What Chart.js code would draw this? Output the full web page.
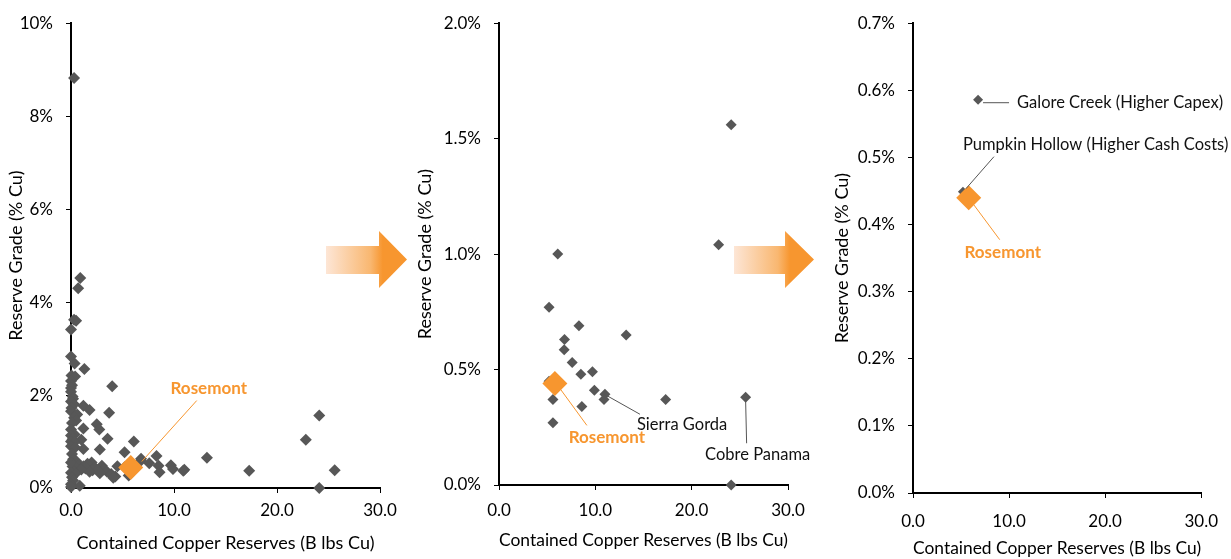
<!DOCTYPE html>
<html>
<head>
<meta charset="utf-8">
<script src="https://cdn.jsdelivr.net/npm/chart.js@4"></script>
<style>
  body { margin: 0; background: #fff; }
  #wrap { position: relative; width: 1231px; height: 559px; overflow: hidden; }
  .box { position: absolute; top: 0; height: 559px; }
  #arrows { position: absolute; left: 0; top: 0; z-index: 5; pointer-events: none; }
</style>
</head>
<body>
<div id="wrap">
  <div class="box" style="left:0;width:410px"><canvas id="chartAll"></canvas></div>
  <div class="box" style="left:400px;width:420px"><canvas id="chartLarge"></canvas></div>
  <div class="box" style="left:820px;width:411px"><canvas id="chartShort"></canvas></div>
  <svg id="arrows" width="1231" height="559">
    <defs>
      <linearGradient id="fade" x1="0" x2="1" y1="0" y2="0">
        <stop offset="0" stop-color="#fde6d6"/>
        <stop offset="0.55" stop-color="#f9b770"/>
        <stop offset="0.7" stop-color="#f7962f"/>
        <stop offset="1" stop-color="#f7962f"/>
      </linearGradient>
    </defs>
    <path d="M326 246 L379 246 L379 231 L407 259.5 L379 288 L379 274 L326 274 Z" fill="url(#fade)"/>
    <path d="M734 246 L785 246 L785 231 L814 259.5 L785 288 L785 274 L734 274 Z" fill="url(#fade)"/>
  </svg>
</div>
<script>
// reserves in B lbs Cu, grade in % Cu
var smallDeposits = [
  [0.3,8.82],[0.9,4.52],[0.7,4.30],[0.3,3.62],[0.5,3.60],[0.0,3.41],[0.0,2.83],[0.35,2.68],
  [1.3,2.56],[0.05,2.42],[0.4,2.40],[0.0,2.30],[0.1,2.21],[4.0,2.19],[0.0,2.15],[0.0,2.07],
  [0.15,1.97],[0.2,1.92],[0.0,1.86],[0.3,1.80],[1.2,1.77],[0.05,1.72],[1.8,1.68],[3.7,1.62],
  [0.0,1.65],[0.6,1.58],[0.3,1.51],[0.5,1.45],[0.1,1.40],[2.5,1.37],[1.2,1.28],[2.75,1.26],
  [0.0,1.26],[0.35,1.15],[0.0,1.13],[1.0,1.04],[3.55,1.06],[0.15,1.05],[0.0,1.00],[0.3,0.98],
  [0.0,0.90],[0.4,0.87],[1.2,0.84],[2.8,0.83],[0.1,0.73],[0.2,0.62],[0.5,0.58],[0.0,0.55],
  [2.0,0.55],[1.6,0.52],[0.8,0.50],[3.0,0.48],[1.2,0.47],[4.5,0.47],[0.15,0.46],[0.6,0.42],
  [1.4,0.42],[2.3,0.44],[1.0,0.40],[3.2,0.40],[2.1,0.38],[2.6,0.38],[0.3,0.36],[1.8,0.35],
  [3.5,0.35],[0.0,0.33],[2.8,0.32],[0.4,0.30],[3.9,0.30],[4.3,0.25],[0.1,0.23],[4.1,0.22],
  [0.2,0.16],[0.0,0.08],[0.85,0.05],[0.0,0.02]
];
var largeDeposits = [
  [24.1,1.56],[22.8,1.04],[6.1,1.00],[5.2,0.77],[8.3,0.69],[13.2,0.65],[6.8,0.63],[6.77,0.586],
  [7.6,0.53],[9.7,0.49],[8.5,0.48],[5.2,0.449],[9.9,0.41],[11.0,0.393],[10.9,0.37],[5.6,0.37],
  [17.3,0.37],[25.6,0.38],[8.6,0.34],[5.6,0.27],[24.1,0.0]
];
var shortlist = [[6.77,0.586],[5.2,0.449]];
var rosemont = [[5.8,0.44]];

var xTicks = [0, 10, 20, 30];
var yTicksAll = [0, 2, 4, 6, 8, 10];
var yTicksLarge = [0, 0.5, 1.0, 1.5, 2.0];
var yTicksShort = [0, 0.1, 0.2, 0.3, 0.4, 0.5, 0.6, 0.7];

var GREY = '#575757';
var ORANGE = '#f7962f';
var FONT = 'Lato, "Open Sans", sans-serif';

Chart.defaults.color = '#000';
Chart.defaults.font.family = FONT;
Chart.defaults.font.size = 17;

function toPoints(arr) {
  return arr.map(function (p) { return {x: p[0], y: p[1]}; });
}

// label + leader line drawn next to a data point
var callouts = {
  id: 'callouts',
  afterDatasetsDraw: function (chart, args, opts) {
    var ctx = chart.ctx;
    var xs = chart.scales.x, ys = chart.scales.y;
    (opts.items || []).forEach(function (it) {
      var px = xs.getPixelForValue(it.at[0]);
      var py = ys.getPixelForValue(it.at[1]);
      ctx.save();
      ctx.strokeStyle = it.lineColor;
      ctx.lineWidth = 1;
      ctx.beginPath();
      ctx.moveTo(px + it.line[0], py + it.line[1]);
      ctx.lineTo(px + it.line[2], py + it.line[3]);
      ctx.stroke();
      ctx.fillStyle = it.color;
      ctx.font = (it.bold ? 'bold ' : '') + it.size + 'px ' + FONT;
      ctx.textAlign = it.align;
      ctx.textBaseline = 'middle';
      ctx.fillText(it.text, px + it.label[0], py + it.label[1]);
      ctx.restore();
    });
  }
};

function makeChart(id, cfg) {
  new Chart(document.getElementById(id), {
    type: 'scatter',
    data: {
      datasets: [
        {data: toPoints(rosemont), pointStyle: 'rectRot', pointRadius: 12.5, backgroundColor: ORANGE, borderWidth: 0, clip: false, order: 0},
        {data: toPoints(cfg.points), pointStyle: 'rectRot', pointRadius: cfg.r, backgroundColor: GREY, borderWidth: 0, clip: false, order: 1}
      ]
    },
    options: {
      responsive: true,
      maintainAspectRatio: false,
      animation: false,
      events: [],
      layout: {padding: {top: cfg.top, right: cfg.right, bottom: 0, left: 0}},
      plugins: {
        legend: {display: false},
        tooltip: {enabled: false},
        callouts: {items: cfg.notes}
      },
      scales: {
        x: {
          type: 'linear', min: 0, max: 30,
          afterBuildTicks: function (s) { s.ticks = xTicks.map(function (v) { return {value: v}; }); },
          afterFit: function (s) { s.height = cfg.xH; },
          ticks: {padding: cfg.xPad, callback: function (v) { return v.toFixed(1); }},
          grid: {drawOnChartArea: false, drawTicks: true, tickLength: 5, color: '#000', lineWidth: 1},
          border: {color: '#000', width: 2},
          title: {display: true, text: 'Contained Copper Reserves (B lbs Cu)', font: {size: 18}, padding: {top: 0, bottom: cfg.xTitlePad}}
        },
        y: {
          type: 'linear', min: 0, max: cfg.yMax,
          afterBuildTicks: function (s) { s.ticks = cfg.yTicks.map(function (v) { return {value: v}; }); },
          afterFit: function (s) { s.width = cfg.yW; },
          ticks: {padding: 13, callback: function (v) { return v.toFixed(cfg.dec) + '%'; }},
          grid: {drawOnChartArea: false, drawTicks: true, tickLength: 5, color: '#000', lineWidth: 1},
          border: {color: '#000', width: 2},
          title: {display: true, text: 'Reserve Grade (% Cu)', font: {size: 18}, padding: {top: cfg.yTitlePad, bottom: 0}}
        }
      }
    },
    plugins: [callouts]
  });
}

makeChart('chartAll', {
  points: smallDeposits.concat(largeDeposits), r: 6,
  yMax: 10, yTicks: yTicksAll, dec: 0,
  top: 15, right: 30, yW: 71, xH: 71, xPad: 7, xTitlePad: 5.5, yTitlePad: 5,
  notes: [
    {at: rosemont[0], text: 'Rosemont', color: ORANGE, lineColor: ORANGE, bold: true, size: 17,
     line: [11, -6, 66, -67], label: [78, -79], align: 'center'}
  ]
});

makeChart('chartLarge', {
  points: largeDeposits, r: 5.5,
  yMax: 2.0, yTicks: yTicksLarge, dec: 1,
  top: 15, right: 32, yW: 99, xH: 74, xPad: 10, xTitlePad: 8, yTitlePad: 14,
  notes: [
    {at: rosemont[0], text: 'Rosemont', color: ORANGE, lineColor: ORANGE, bold: true, size: 17,
     line: [5, 5, 32, 42], label: [52, 54], align: 'center'},
    {at: [11.0, 0.393], text: 'Sierra Gorda', color: '#111', lineColor: '#555', bold: false, size: 16.5,
     line: [3, 2, 35, 20], label: [32, 30], align: 'left'},
    {at: [25.6, 0.38], text: 'Cobre Panama', color: '#111', lineColor: '#555', bold: false, size: 16.5,
     line: [0, 3, 1, 46], label: [12, 57], align: 'center'}
  ]
});

makeChart('chartShort', {
  points: shortlist, r: 5,
  yMax: 0.7, yTicks: yTicksShort, dec: 1,
  top: 16, right: 27, yW: 93, xH: 66, xPad: 13, xTitlePad: 0, yTitlePad: 11,
  notes: [
    {at: rosemont[0], text: 'Rosemont', color: ORANGE, lineColor: ORANGE, bold: true, size: 17,
     line: [5, 7, 31, 42], label: [34, 55], align: 'center'},
    {at: shortlist[0], text: 'Galore Creek (Higher Capex)', color: '#111', lineColor: '#555', bold: false, size: 16.5,
     line: [5, 3, 31, 3], label: [39, 3], align: 'left'},
    {at: shortlist[1], text: 'Pumpkin Hollow (Higher Cash Costs)', color: '#111', lineColor: '#555', bold: false, size: 16.5,
     line: [3, -3, 31, -35], label: [0, -47], align: 'left'}
  ]
});
</script>
</body>
</html>
